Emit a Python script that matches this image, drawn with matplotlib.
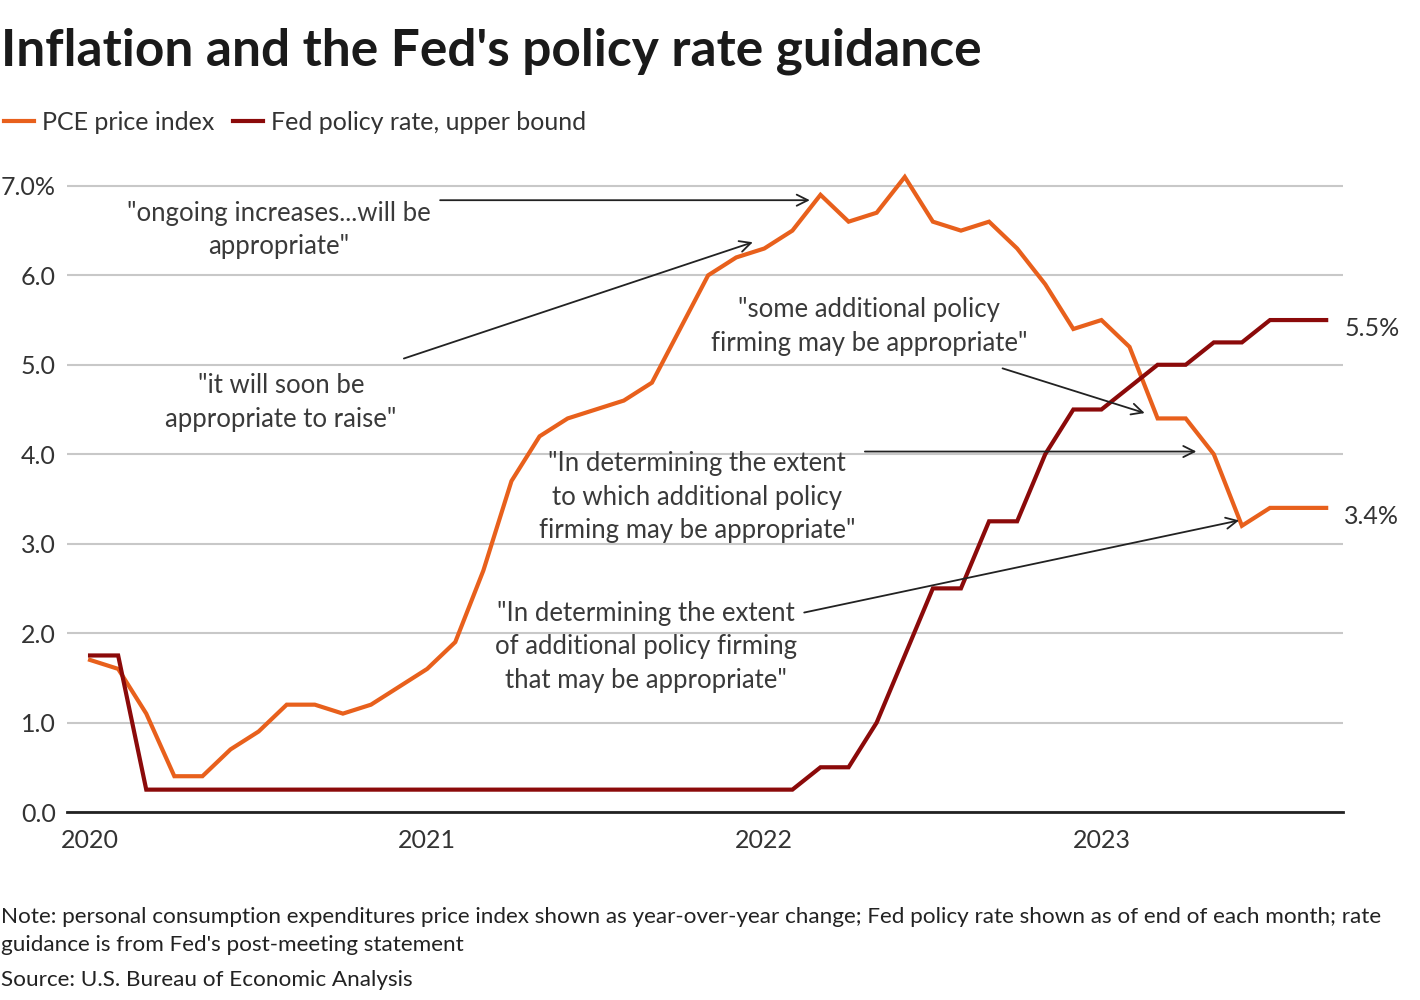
import matplotlib
matplotlib.use("Agg")
import matplotlib.pyplot as plt
from matplotlib.lines import Line2D

plt.rcParams['font.family'] = ['Lato', 'DejaVu Sans']

# ---- data (monthly, Jan 2020 - Sep 2023) ----
pce = [1.7, 1.6, 1.1, 0.4, 0.4, 0.7, 0.9, 1.2, 1.2, 1.1, 1.2, 1.4,
       1.6, 1.9, 2.7, 3.7, 4.2, 4.4, 4.5, 4.6, 4.8, 5.4, 6.0, 6.2,
       6.3, 6.5, 6.9, 6.6, 6.7, 7.1, 6.6, 6.5, 6.6, 6.3, 5.9, 5.4,
       5.5, 5.2, 4.4, 4.4, 4.0, 3.2, 3.4, 3.4, 3.4]
fed = [1.75, 1.75, 0.25, 0.25, 0.25, 0.25, 0.25, 0.25, 0.25, 0.25, 0.25, 0.25,
       0.25, 0.25, 0.25, 0.25, 0.25, 0.25, 0.25, 0.25, 0.25, 0.25, 0.25, 0.25,
       0.25, 0.25, 0.5, 0.5, 1.0, 1.75, 2.5, 2.5, 3.25, 3.25, 4.0, 4.5,
       4.5, 4.75, 5.0, 5.0, 5.25, 5.25, 5.5, 5.5, 5.5]
months = list(range(len(pce)))
year_ticks = [0, 12, 24, 36]
year_labels = ["2020", "2021", "2022", "2023"]
y_ticks = [0, 1, 2, 3, 4, 5, 6, 7]
y_labels = ["0.0", "1.0", "2.0", "3.0", "4.0", "5.0", "6.0", "7.0%"]

annotations = [
    ('"ongoing increases...will be\nappropriate"', (6.73, 6.51), (12.46, 6.84), (25.62, 6.84)),
    ('"it will soon be\nappropriate to raise"', (6.8, 4.58), (11.17, 5.07), (23.59, 6.37)),
    ('"some additional policy\nfirming may be appropriate"', (27.72, 5.43), (32.48, 4.96), (37.54, 4.46)),
    ('"In determining the extent\nto which additional policy\nfirming may be appropriate"', (21.6, 3.52), (27.58, 4.03), (39.38, 4.03)),
    ('"In determining the extent\nof additional policy firming\nthat may be appropriate"', (19.79, 1.845), (25.42, 2.23), (40.9, 3.26)),
]

ORANGE = "#e8601c"
DARKRED = "#8b0a0a"
TXT = "#333333"

fig = plt.figure(figsize=(14.2, 10), dpi=100)
ax = fig.add_axes([0.0472, 0.188, 0.8986, 0.644])

ax.plot(months, pce, color=ORANGE, lw=3, solid_joinstyle='miter', zorder=3)
ax.plot(months, fed, color=DARKRED, lw=3, solid_joinstyle='miter', zorder=3)

ax.set_xlim(-0.82, 44.6)
ax.set_ylim(0, 7.2)
ax.set_xticks(year_ticks)
ax.set_xticklabels(year_labels)
ax.set_yticks(y_ticks)
ax.set_yticklabels(y_labels)
ax.tick_params(axis='both', length=0, labelsize=18, labelcolor=TXT)
ax.tick_params(axis='x', pad=12)
ax.tick_params(axis='y', pad=8)
ax.grid(axis='y', color='#c8c8c8', lw=1.5)
ax.grid(axis='x', visible=False)
ax.set_axisbelow(True)
for s in ['top', 'right', 'left']:
    ax.spines[s].set_visible(False)
ax.spines['bottom'].set_color('#222222')
ax.spines['bottom'].set_linewidth(2)
ax.spines['bottom'].set_zorder(4)

for text, tpos, tail, head in annotations:
    ax.text(tpos[0], tpos[1], text, ha='center', va='center', fontsize=18.5,
            color='#3a3a3a', linespacing=1.42, zorder=5)
    ax.annotate('', xy=head, xytext=tail,
                arrowprops=dict(arrowstyle='->', color='#222222', lw=1.3,
                                mutation_scale=20, shrinkA=0, shrinkB=0),
                zorder=6)

ax.annotate("5.5%", xy=(months[-1], fed[-1]), xytext=(13, -6),
            textcoords='offset points', ha='left', va='center', fontsize=18,
            color=TXT, annotation_clip=False)
ax.annotate("3.4%", xy=(months[-1], pce[-1]), xytext=(13, -6),
            textcoords='offset points', ha='left', va='center', fontsize=18,
            color=TXT, annotation_clip=False)

fig.text(0.001, 0.949, "Inflation and the Fed's policy rate guidance",
         fontsize=37, fontweight='bold', color='#1a1a1a', ha='left', va='center')

handles = [Line2D([], [], color=ORANGE, lw=3), Line2D([], [], color=DARKRED, lw=3)]
fig.legend(handles, ["PCE price index", "Fed policy rate, upper bound"],
           loc='center left', bbox_to_anchor=(-0.004, 0.878), ncol=2, frameon=False,
           fontsize=18, labelcolor=TXT, handlelength=1.2, handletextpad=0.32,
           columnspacing=0.75, borderaxespad=0)

fig.text(0.001, 0.069,
         "Note: personal consumption expenditures price index shown as year-over-year change; Fed policy rate shown as of end of each month; rate\nguidance is from Fed's post-meeting statement",
         fontsize=16.2, color='#222222', ha='left', va='center', linespacing=1.55)
fig.text(0.001, 0.020, "Source: U.S. Bureau of Economic Analysis",
         fontsize=16.2, color='#222222', ha='left', va='center')

fig.savefig("out.png", dpi=100)
